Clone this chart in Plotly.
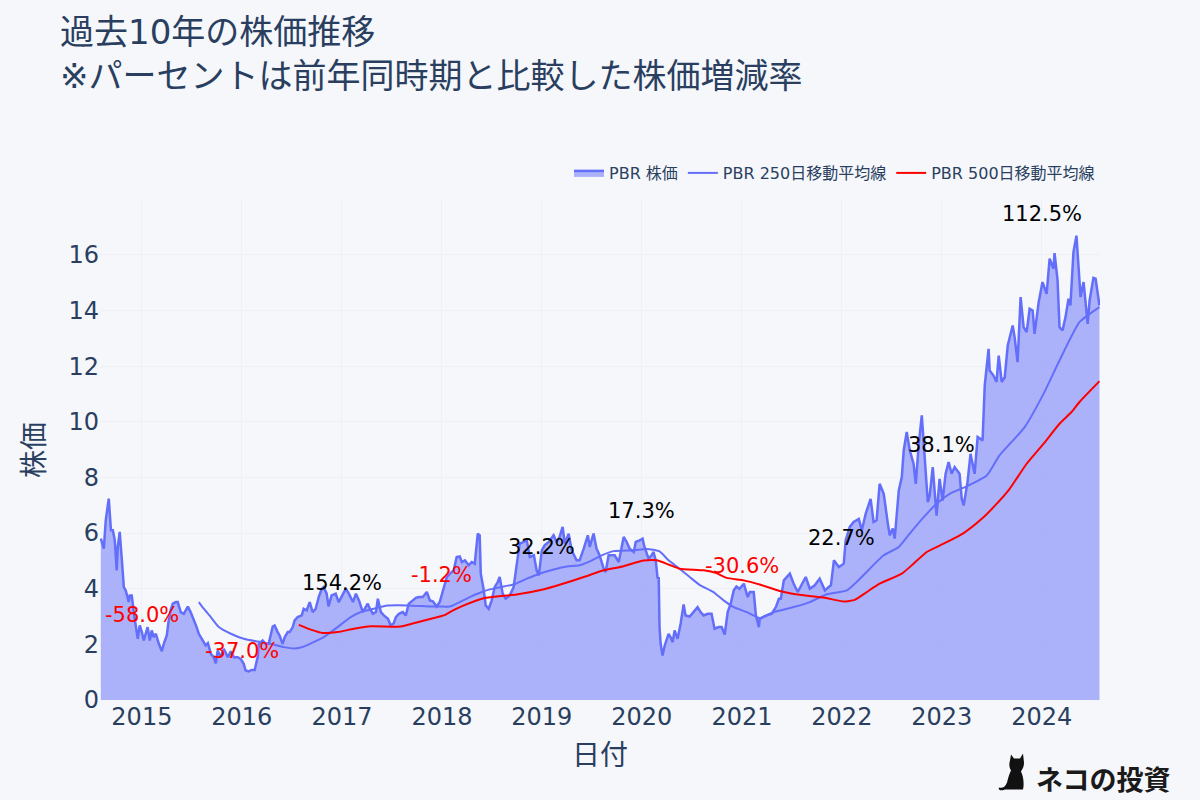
import base64
import plotly.graph_objects as go
import pandas as pd

# decimal years and values
price_year = [
2014.59,2014.62,2014.64,2014.67,2014.69,2014.71,2014.73,2014.75,2014.76,2014.78,2014.80,2014.82,2014.84,2014.87,2014.88,2014.90,2014.92,2014.94,2014.96,2014.98,
2015.00,2015.02,2015.04,2015.06,2015.08,2015.10,2015.12,2015.14,2015.17,2015.20,2015.22,2015.25,2015.27,2015.29,2015.31,2015.34,2015.36,2015.39,2015.42,2015.44,2015.46,2015.49,2015.52,2015.55,2015.57,2015.61,2015.64,2015.66,2015.69,2015.72,2015.74,2015.76,2015.79,2015.82,2015.84,2015.86,2015.89,2015.92,2015.96,2015.99,
2016.02,2016.04,2016.07,2016.10,2016.13,2016.16,2016.17,2016.21,2016.24,2016.27,2016.31,2016.33,2016.36,2016.38,2016.41,2016.43,2016.46,2016.48,2016.51,2016.53,2016.56,2016.60,2016.62,2016.65,2016.68,2016.71,2016.74,2016.77,2016.80,2016.82,2016.85,2016.87,2016.90,2016.94,2016.97,
2017.01,2017.04,2017.07,2017.11,2017.14,2017.17,2017.21,2017.26,2017.28,2017.31,2017.34,2017.36,2017.39,2017.42,2017.46,2017.49,2017.52,2017.54,2017.57,2017.61,2017.64,2017.67,2017.71,2017.74,2017.77,2017.81,2017.85,2017.87,2017.88,2017.91,2017.95,2017.98,
2018.02,2018.05,2018.08,2018.12,2018.15,2018.18,2018.20,2018.23,2018.27,2018.30,2018.33,2018.36,2018.38,2018.39,2018.42,2018.44,2018.47,2018.50,2018.53,2018.56,2018.58,2018.61,2018.64,2018.68,2018.72,2018.75,2018.78,2018.82,2018.85,2018.88,2018.92,2018.95,2018.97,
2019.00,2019.03,2019.07,2019.12,2019.15,2019.18,2019.21,2019.23,2019.27,2019.30,2019.35,2019.38,2019.42,2019.46,2019.48,2019.52,2019.55,2019.58,2019.62,2019.64,2019.67,2019.70,2019.73,2019.77,2019.80,2019.82,2019.85,2019.88,2019.92,2019.94,2019.98,
2020.01,2020.03,2020.07,2020.10,2020.12,2020.14,2020.16,2020.17,2020.18,2020.19,2020.21,2020.23,2020.27,2020.29,2020.31,2020.33,2020.36,2020.39,2020.42,2020.44,2020.48,2020.52,2020.56,2020.59,2020.62,2020.66,2020.70,2020.73,2020.77,2020.80,2020.83,2020.86,2020.89,2020.92,2020.95,2020.98,
2021.02,2021.06,2021.08,2021.12,2021.14,2021.17,2021.18,2021.25,2021.30,2021.34,2021.37,2021.39,2021.42,2021.48,2021.52,2021.56,2021.60,2021.64,2021.68,2021.73,2021.78,2021.83,2021.87,2021.89,2021.92,2021.97,
2022.02,2022.04,2022.08,2022.12,2022.17,2022.20,2022.24,2022.29,2022.32,2022.35,2022.38,2022.42,2022.46,2022.48,2022.51,2022.53,2022.57,2022.60,2022.62,2022.65,2022.68,2022.72,2022.74,2022.77,2022.80,2022.83,2022.86,2022.88,2022.91,2022.95,2022.98,
2023.01,2023.04,2023.07,2023.10,2023.13,2023.18,2023.20,2023.22,2023.26,2023.29,2023.33,2023.36,2023.41,2023.43,2023.47,2023.48,2023.52,2023.55,2023.57,2023.60,2023.63,2023.66,2023.71,2023.73,2023.76,2023.79,2023.82,2023.85,2023.88,2023.91,2023.93,2023.97,
2024.01,2024.05,2024.08,2024.12,2024.13,2024.16,2024.18,2024.21,2024.24,2024.27,2024.29,2024.32,2024.35,2024.38,2024.39,2024.42,2024.46,2024.48,2024.52,2024.54,2024.58,
]
price = [
5.80,5.44,6.46,7.24,6.10,6.10,5.74,4.66,5.50,6.04,5.02,4.06,3.94,3.52,3.76,3.76,3.10,2.62,2.20,2.68,
2.44,2.14,2.38,2.62,2.14,2.50,2.26,2.38,2.02,1.75,2.02,2.32,2.86,3.22,3.46,3.52,3.52,3.16,3.10,3.22,3.36,3.16,2.92,2.62,2.38,2.14,1.96,2.04,1.66,1.54,1.32,1.78,1.54,1.84,1.72,1.54,1.75,1.54,1.54,1.48,
1.30,1.06,1.03,1.08,1.08,1.54,2.02,2.14,2.02,2.02,2.64,2.68,2.44,2.32,2.02,2.26,2.44,2.44,2.62,2.86,2.98,3.04,3.28,3.22,3.52,3.16,3.28,3.70,4.00,4.06,3.82,3.36,3.76,3.82,3.52,
3.82,4.00,3.82,3.52,3.82,3.58,3.16,3.46,3.28,3.10,3.16,3.64,3.16,3.04,2.92,2.68,2.76,2.98,3.10,3.16,3.04,3.46,3.58,3.67,3.70,3.70,3.88,3.70,3.58,3.55,3.36,3.52,
4.00,4.42,4.54,4.66,5.14,5.16,4.96,5.02,4.84,4.96,4.90,5.98,5.92,4.54,3.94,3.40,3.28,3.58,4.06,4.24,4.42,3.82,3.64,3.76,4.06,4.78,5.62,5.68,5.74,5.14,5.20,4.66,4.48,
5.38,5.56,5.68,5.92,5.68,5.86,6.22,5.62,5.98,5.38,5.02,5.02,5.44,5.92,5.50,5.98,5.44,5.20,4.72,4.60,5.20,5.20,5.20,4.96,5.56,5.86,5.68,5.44,5.32,5.68,5.74,
5.80,5.50,5.08,5.20,5.32,5.02,4.36,4.42,2.62,2.02,1.60,1.96,2.38,2.26,2.08,2.50,2.20,2.74,3.43,3.04,3.00,3.16,3.34,3.16,3.04,3.10,3.10,2.56,2.62,2.62,2.35,3.16,3.46,3.94,4.08,4.00,
4.18,3.70,3.88,3.88,3.04,2.62,2.92,3.04,3.10,3.34,3.64,3.64,4.30,4.54,4.18,3.88,4.18,4.42,4.00,4.12,4.36,3.94,4.06,4.12,5.02,4.78,
4.90,5.74,6.22,6.40,6.51,6.10,6.69,7.23,6.40,6.46,7.77,7.41,6.34,5.92,6.16,5.80,7.53,8.01,8.97,9.63,8.97,8.49,7.77,9.21,10.23,8.49,7.11,7.35,8.37,6.63,7.95,
7.17,8.13,8.55,8.13,8.37,8.13,7.23,6.99,7.83,8.85,8.13,9.45,9.33,11.31,12.62,11.84,11.66,11.43,12.38,11.43,11.60,12.74,13.46,13.04,12.14,14.48,13.40,13.22,14.06,14.00,13.16,14.30,
15.02,14.60,15.86,15.50,16.06,15.08,13.40,13.28,13.76,14.42,14.18,16.10,16.69,15.08,14.48,15.02,13.52,14.36,15.17,15.14,14.18,
]
ma250_year = [2015.57,2015.62,2015.69,2015.77,2015.89,2016.02,2016.16,2016.29,2016.42,2016.53,2016.62,2016.72,2016.82,2016.96,2017.09,2017.21,2017.32,2017.44,2017.66,2017.89,2017.98,2018.08,2018.18,2018.28,2018.42,2018.55,2018.72,2018.85,2018.98,2019.12,2019.25,2019.38,2019.48,2019.60,2019.72,2019.92,2020.05,2020.18,2020.27,2020.38,2020.48,2020.58,2020.72,2020.82,2020.92,2021.05,2021.18,2021.32,2021.52,2021.68,2021.85,2022.05,2022.15,2022.28,2022.42,2022.57,2022.68,2022.82,2022.95,2023.08,2023.25,2023.45,2023.58,2023.83,2024.02,2024.18,2024.38,2024.58]
ma250 = [3.52,3.28,2.98,2.62,2.38,2.20,2.10,2.02,1.90,1.85,1.92,2.08,2.26,2.62,2.98,3.19,3.28,3.39,3.40,3.36,3.36,3.36,3.52,3.70,3.91,4.03,4.15,4.36,4.54,4.69,4.80,4.84,4.98,5.20,5.35,5.38,5.43,5.34,5.02,4.72,4.42,4.14,3.88,3.58,3.34,3.16,2.95,3.16,3.34,3.52,3.80,3.94,4.24,4.72,5.20,5.50,5.98,6.57,7.05,7.41,7.68,8.07,8.79,9.81,11.01,12.20,13.58,14.12]
ma500_year = [2016.57,2016.69,2016.81,2016.96,2017.12,2017.29,2017.59,2017.72,2017.89,2018.02,2018.08,2018.22,2018.42,2018.75,2019.00,2019.18,2019.42,2019.62,2019.82,2020.02,2020.15,2020.27,2020.38,2020.62,2020.75,2020.85,2021.02,2021.18,2021.38,2021.58,2021.82,2022.02,2022.13,2022.25,2022.38,2022.60,2022.72,2022.85,2023.02,2023.22,2023.40,2023.52,2023.68,2023.85,2024.02,2024.18,2024.30,2024.38,2024.58]
ma500 = [2.70,2.53,2.41,2.44,2.56,2.65,2.64,2.76,2.92,3.04,3.16,3.40,3.66,3.79,3.96,4.14,4.42,4.66,4.81,5.01,5.02,4.87,4.72,4.66,4.56,4.39,4.30,4.15,3.92,3.78,3.68,3.54,3.60,3.88,4.18,4.54,4.90,5.32,5.62,6.00,6.51,6.93,7.59,8.49,9.21,9.93,10.35,10.71,11.46]

label_dates = ["2015-01-01","2016-01-01","2017-01-01","2018-01-01","2019-01-01","2020-01-01","2021-01-01","2022-01-01","2023-01-01","2024-01-01"]
label_y = [3.05,1.75,4.20,4.49,5.50,6.79,4.81,5.82,9.17,17.46]
label_text = ["-58.0%","-37.0%","154.2%","-1.2%","32.2%","17.3%","-30.6%","22.7%","38.1%","112.5%"]
label_color = ["red","red","black","red","black","black","red","black","black","black"]
tick_dates = label_dates
tick_text = ["2015","2016","2017","2018","2019","2020","2021","2022","2023","2024"]


def to_date(years):
    out = []
    for y in years:
        base = int(y)
        start = pd.Timestamp(year=base, month=1, day=1)
        out.append((start + pd.Timedelta(days=(y - base) * 365.25)).strftime("%Y-%m-%d"))
    return out


BLUE = "#636efa"
INK = "#2a3f5f"
BG = "#f5f7fb"
FONT = "DejaVu Sans, Noto Sans CJK JP, sans-serif"

fig = go.Figure()
fig.add_trace(go.Scatter(x=to_date(price_year), y=price, name="PBR 株価", mode="lines",
                         line=dict(color=BLUE, width=2.5), fill="tozeroy",
                         fillcolor="rgba(99,110,250,0.5)"))
fig.add_trace(go.Scatter(x=to_date(ma250_year), y=ma250, name="PBR 250日移動平均線", mode="lines",
                         line=dict(color=BLUE, width=2, shape="spline", smoothing=0.5)))
fig.add_trace(go.Scatter(x=to_date(ma500_year), y=ma500, name="PBR 500日移動平均線", mode="lines",
                         line=dict(color="red", width=2, shape="spline", smoothing=0.5)))
for d, y, t, c in zip(label_dates, label_y, label_text, label_color):
    fig.add_annotation(x=d, y=y, text=t, showarrow=False,
                       font=dict(size=21, color=c, family=FONT))

cat_svg = ('<svg xmlns="http://www.w3.org/2000/svg" viewBox="0 0 34 40">'
           '<path fill="#111" d="M13 2 L16 6 L22 6 L25 1 L26 10 C26 15 24 17 23 19 C26 25 26 33 25 37 '
           'L7 37 C2 39 0 37 1 35 C4 36 7 35 9 30 C10 26 11 22 13 18 C11 15 11 11 12 8 Z"/></svg>')
fig.add_layout_image(dict(source="data:image/svg+xml;base64," + base64.b64encode(cat_svg.encode()).decode(),
                          xref="paper", yref="paper", x=0.898, y=-0.105, sizex=0.034, sizey=0.08,
                          xanchor="left", yanchor="top", layer="above"))
fig.add_annotation(xref="paper", yref="paper", x=1.072, y=-0.156, text="<b>ネコの投資</b>", showarrow=False,
                   xanchor="right", yanchor="middle",
                   font=dict(size=27, color="#1a1a1a", family="Noto Sans CJK JP"))

fig.update_layout(
    width=1200, height=800, autosize=False,
    margin=dict(l=100, r=100, t=200, b=100),
    paper_bgcolor=BG, plot_bgcolor=BG,
    font=dict(family=FONT, color=INK),
    title=dict(text="過去10年の株価推移<br>※パーセントは前年同時期と比較した株価増減率",
               x=0.05, xanchor="left", y=0.945, yanchor="top",
               font=dict(size=34, color=INK, family=FONT)),
    legend=dict(orientation="h", x=1, xanchor="right", y=1.02, yanchor="bottom",
                font=dict(size=16, color=INK), bgcolor="rgba(0,0,0,0)"),
    xaxis=dict(range=["2014-08-01", "2024-08-01"], tickvals=tick_dates, ticktext=tick_text,
               title=dict(text="日付", font=dict(size=28)), tickfont=dict(size=24),
               gridcolor="#eef0f6", zeroline=False, showline=False),
    yaxis=dict(range=[0, 17.97], dtick=2, title=dict(text="株価", font=dict(size=28)), tickfont=dict(size=24),
               gridcolor="#eef0f6", zeroline=False, showline=False),
    showlegend=True,
)
fig.write_html("out.html", config={"displayModeBar": False},
               post_script="document.body.style.margin='0';")
